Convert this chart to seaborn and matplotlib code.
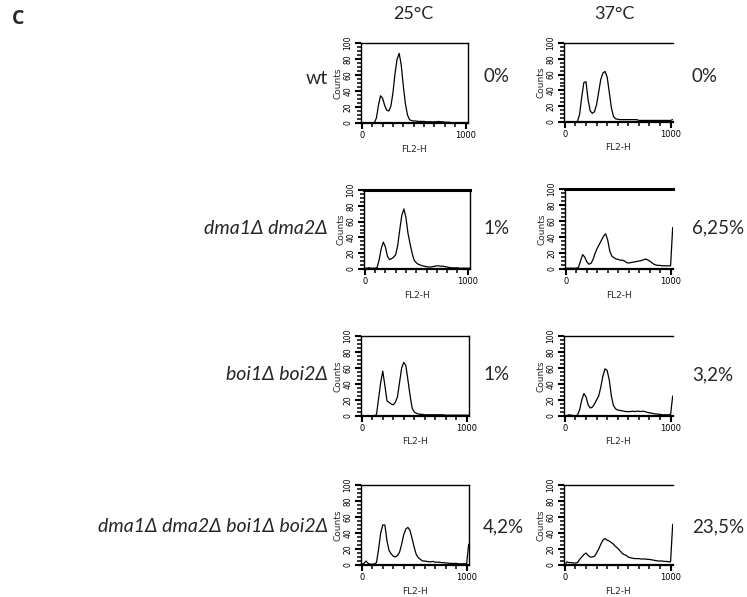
import numpy as np
import pandas as pd
import matplotlib
matplotlib.use("Agg")
import matplotlib.pyplot as plt
import seaborn as sns
from matplotlib.ticker import MultipleLocator, NullFormatter

sns.set_theme(style="white")
plt.rcParams['font.family'] = ['Lato', 'DejaVu Sans']
plt.rcParams['xtick.minor.visible'] = True
plt.rcParams['ytick.minor.visible'] = True

# FL2-H channels (shared grid)
channels = list(range(0, 1040, 20))

strains = ["wt", "dma1Δ dma2Δ", "boi1Δ boi2Δ", "dma1Δ dma2Δ boi1Δ boi2Δ"]
temps = ["25°C", "37°C"]
pct_25 = ["0%", "1%", "1%", "4,2%"]
pct_37 = ["0%", "6,25%", "3,2%", "23,5%"]

wt_25 = [0, 0, 0, 0, 0, 0, 0.5, 6, 22, 34, 31, 22, 16, 15, 21, 38, 62, 80, 87, 72,
         46, 24, 10, 4, 3, 2.5, 2.5, 2, 2, 2, 2, 1.5, 1.5, 1.5, 1.5, 1.5, 1.5, 2, 1.5, 1.5,
         1, 1, 1, 0.5, 0.5, 0.5, 0.5, 0.5, 0.5, 0.5, 0.5, 0.5]
wt_37 = [0, 0, 0, 0, 0, 0, 1, 10, 32, 50, 51, 28, 14, 11, 13, 22, 38, 54, 62, 64,
         57, 38, 18, 7, 4, 3.5, 3, 3, 3, 3, 3, 3, 3, 3, 3, 2, 2, 2, 2, 2,
         2, 2, 2, 2, 2, 2, 2, 2, 2, 2, 2, 3]
dma_25 = [1, 1, 1.5, 1, 1, 1, 2, 12, 26, 34, 28, 16, 12, 13, 15, 18, 30, 50, 68, 76,
          65, 45, 32, 20, 11, 8, 6, 5, 4, 3.5, 3, 2.5, 2.5, 3, 3.5, 4, 4, 3.5, 3.5, 3,
          2.5, 2, 1.5, 1.5, 1.5, 1.5, 1, 1, 1, 1, 1, 1]
dma_37 = [1, 1, 1, 1, 1, 1, 2, 10, 18, 15, 9, 6, 7, 12, 20, 26, 31, 36, 41, 44,
          36, 22, 16, 14, 12.5, 12, 11, 11, 10, 8, 7.5, 8, 8.5, 9, 9.5, 10, 10.5, 11.5, 12.5, 11.5,
          10, 8, 6, 5, 4.5, 4.5, 4, 4, 4, 4, 4, 52]
boi_25 = [0, 0, 0, 0, 0, 0, 0, 2, 22, 42, 56, 38, 19, 17, 15, 14, 17, 24, 42, 60,
          67, 63, 45, 26, 10, 5, 3.5, 2.5, 2, 2, 1.5, 1.5, 1.5, 1.5, 1.5, 1.5, 1.5, 1.5, 1.5, 1.5,
          1, 1, 1, 1, 1, 1, 1, 1, 1, 1, 1, 1]
boi_37 = [0, 0.5, 1.5, 1, 0.5, 0.5, 1, 8, 20, 28, 24, 14, 10, 11, 15, 20, 25, 36, 50, 59,
          57, 45, 25, 13, 9, 7.5, 7, 6.5, 6, 5.5, 5.5, 5.5, 6, 5.5, 6, 6, 5.5, 6, 5.5, 4.5,
          4, 3.5, 3, 2.5, 2.5, 2, 1.5, 1.5, 1.5, 1.5, 1.5, 25]
quad_25 = [1, 2, 5, 2, 1, 1, 1.5, 3, 20, 40, 50, 50, 30, 18, 14, 11, 10, 12, 16, 26,
           38, 45, 47, 43, 33, 22, 13, 9, 7, 5, 5, 4.5, 4, 4, 4.5, 3.5, 3.5, 3.5, 3, 3,
           2.5, 2.5, 2, 2, 2, 2, 1.5, 1.5, 1.5, 1.5, 1.5, 26]
quad_37 = [0, 4, 3, 3, 2.5, 2.5, 3, 7, 10, 13, 15, 12, 10, 10, 11, 15, 20, 26, 31, 33,
           31, 30, 28, 26, 23, 21, 18, 15, 13, 12, 10, 9, 8.5, 8, 8, 8, 7.5, 7.5, 7.5, 7,
           7, 6.5, 6, 5.5, 5, 5, 5, 4.5, 4.5, 4, 4, 51]

series = [[wt_25, wt_37], [dma_25, dma_37], [boi_25, boi_37], [quad_25, quad_37]]

W, H = 747, 597
fig = plt.figure(figsize=(W / 100, H / 100), dpi=100)
fig.patch.set_facecolor("white")

# axes boxes in pixels (x0, y0_top, x1, y1_bottom)
boxes = [
    [(361, 43, 468, 123), (564, 43, 673, 122)],
    [(364, 190, 470, 269), (565, 189, 673, 269)],
    [(361, 336, 469, 416), (564, 336, 673, 416)],
    [(361, 485, 469, 565), (564, 485, 673, 565)],
]
top_lw = [1.0, 2.2, 1.0, 1.0]
label_y = [79, 229, 375, 527]
pct_y = [77, 228, 375, 527]


def px(x0, y0, x1, y1):
    return [x0 / W, 1 - y1 / H, (x1 - x0) / W, (y1 - y0) / H]


for r in range(4):
    for c in range(2):
        ax = fig.add_axes(px(*boxes[r][c]))
        df = pd.DataFrame({"FL2-H": channels, "Counts": series[r][c]})
        sns.lineplot(data=df, x="FL2-H", y="Counts", ax=ax, color="black",
                     lw=0.9, estimator=None)
        ax.set_xlim(-8, 1023)
        ax.set_ylim(0, 100)
        ax.set_facecolor("white")
        ax.set_xticks([0, 1000])
        ax.set_xticklabels(["0", "1000"], fontsize=6, family="DejaVu Sans")
        ax.set_yticks([0, 20, 40, 60, 80, 100])
        ax.set_yticklabels(["0", "20", "40", "60", "80", "100"], fontsize=5.5,
                           rotation=90, va="center", family="DejaVu Sans")
        ax.xaxis.set_minor_locator(MultipleLocator(100))
        ax.yaxis.set_minor_locator(MultipleLocator(5))
        ax.xaxis.set_minor_formatter(NullFormatter())
        ax.yaxis.set_minor_formatter(NullFormatter())
        ax.tick_params(axis="both", which="major", length=4.5, width=1.5,
                       direction="out", pad=1.5, colors="black",
                       bottom=True, left=True, top=False, right=False)
        ax.tick_params(axis="both", which="minor", length=3, width=1.1,
                       direction="out", color="black",
                       bottom=True, left=True, top=False, right=False)
        ax.set_xlabel("FL2-H", fontsize=6.5, family="DejaVu Sans", labelpad=3)
        ax.set_ylabel("Counts", fontsize=6.5, family="DejaVu Sans", labelpad=1)
        for s in ["left", "bottom", "top", "right"]:
            ax.spines[s].set_color("black")
            ax.spines[s].set_linewidth(1.0)
        ax.spines["bottom"].set_linewidth(1.6)
        ax.spines["top"].set_linewidth(top_lw[r])
        if c == 1:
            ax.spines["right"].set_visible(False)
        ax.grid(False)

for c, t in enumerate(temps):
    fig.text([413 / W, 614 / W][c], 1 - 14 / H, t, fontsize=13,
             ha="center", va="center")

fig.text(18 / W, 1 - 19 / H, "C", fontsize=14, fontweight="bold",
         family="Open Sans", ha="center", va="center")

for r in range(4):
    fig.text(328 / W, 1 - label_y[r] / H, strains[r], fontsize=14,
             ha="right", va="center", style="normal" if r == 0 else "italic")
    fig.text(483 / W, 1 - pct_y[r] / H, pct_25[r], fontsize=13.5,
             ha="left", va="center")
    fig.text(692 / W, 1 - pct_y[r] / H, pct_37[r], fontsize=13.5,
             ha="left", va="center")

fig.savefig("out.png", dpi=100, facecolor="white")
